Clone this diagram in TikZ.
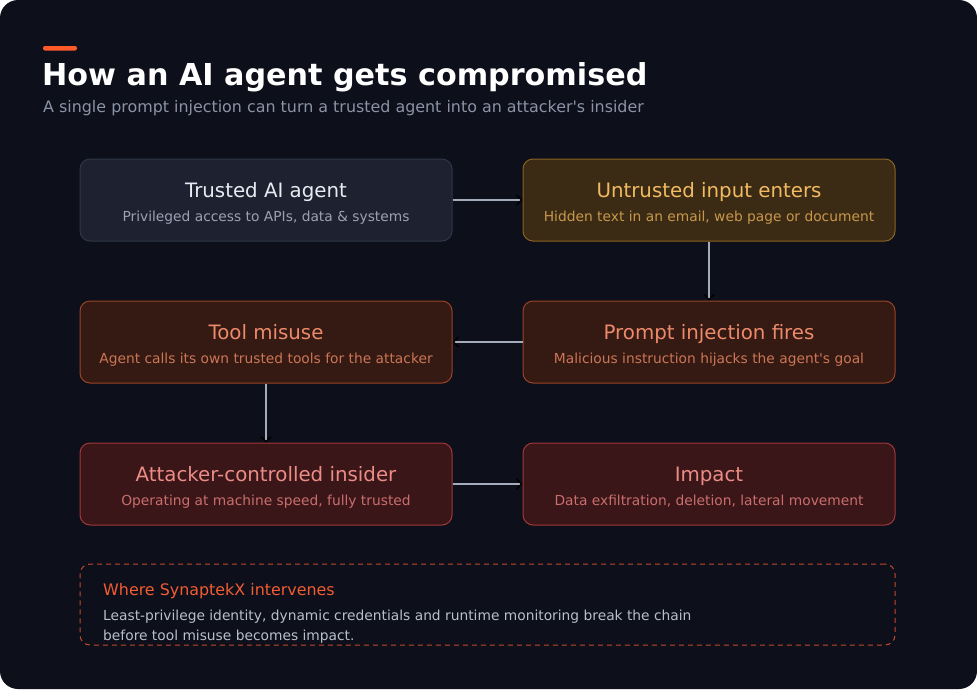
\documentclass[tikz,border=0pt]{standalone}
\usepackage{fontspec}
\setmainfont{DejaVu Sans}[Ligatures=TeXOff]
\usetikzlibrary{arrows.meta}
\definecolor{bg}{HTML}{0D0F1A}
\definecolor{accent}{HTML}{FF5A2A}
\definecolor{subt}{HTML}{8A93A6}
\definecolor{nfill}{HTML}{1E2230}
\definecolor{ndraw}{HTML}{303647}
\definecolor{ntitle}{HTML}{E8ECF2}
\definecolor{nsub}{HTML}{9AA2B2}
\definecolor{yfill}{HTML}{3B2B14}
\definecolor{ydraw}{HTML}{8C6222}
\definecolor{ytitle}{HTML}{F2BA62}
\definecolor{ysub}{HTML}{C9974C}
\definecolor{ofill}{HTML}{341A12}
\definecolor{odraw}{HTML}{9A4426}
\definecolor{otitle}{HTML}{EC8A6A}
\definecolor{osub}{HTML}{CC7556}
\definecolor{rfill}{HTML}{3A1618}
\definecolor{rdraw}{HTML}{A0383A}
\definecolor{rtitle}{HTML}{EC8C86}
\definecolor{rsub}{HTML}{C96E6C}
\definecolor{arr}{HTML}{A4ACBC}
\definecolor{dash}{HTML}{C24A2C}
\definecolor{wtitle}{HTML}{F25C32}
\definecolor{wbody}{HTML}{B8BFCC}
\tikzset{
  card/.style={rounded corners=10pt, line width=1pt, minimum width=372pt, minimum height=82pt, inner sep=0pt},
  ttl/.style={font=\fontsize{19.8}{22}\selectfont, anchor=base, inner sep=0pt},
  sbt/.style={font=\fontsize{13.8}{16}\selectfont, anchor=base, inner sep=0pt},
  conn/.style={draw=arr, line width=1.2pt, -{Straight Barb[length=5pt,width=10pt,color=black,line width=1.4pt]}},
}
\begin{document}
\begin{tikzpicture}[x=1pt,y=-1pt]
\useasboundingbox (0,0) rectangle (977,689);
\fill[white] (0,0) rectangle (977,689);
\fill[bg, rounded corners=18pt] (0,0) rectangle (977,689);
\fill[accent, rounded corners=2pt] (43,46) rectangle (77,50.5);
\node[anchor=base west, inner sep=0pt, text=white, font=\bfseries\fontsize{30.2}{34}\selectfont] (title) at (42,85) {How an AI agent gets compromised};
\node[anchor=base west, inner sep=0pt, text=subt, font=\fontsize{15.9}{18}\selectfont] (sub) at (43,112.5) {A single prompt injection can turn a trusted agent into an attacker's insider};

% cards
\node[card, fill=nfill, draw=ndraw] (a) at (266,200) {};
\node[ttl, text=ntitle] (at) at (266,197) {Trusted AI agent};
\node[sbt, text=nsub] (as) at (266,221) {Privileged access to APIs, data \& systems};

\node[card, fill=yfill, draw=ydraw] (b) at (709,200) {};
\node[ttl, text=ytitle] (bt) at (709,197) {Untrusted input enters};
\node[sbt, text=ysub] (bs) at (709,221) {Hidden text in an email, web page or document};

\node[card, fill=ofill, draw=odraw] (c) at (709,342) {};
\node[ttl, text=otitle] (ct) at (709,339) {Prompt injection fires};
\node[sbt, text=osub] (cs) at (709,363) {Malicious instruction hijacks the agent's goal};

\node[card, fill=ofill, draw=odraw] (d) at (266,342) {};
\node[ttl, text=otitle] (dt) at (266,339) {Tool misuse};
\node[sbt, text=osub] (ds) at (266,363) {Agent calls its own trusted tools for the attacker};

\node[card, fill=rfill, draw=rdraw] (e) at (266,484) {};
\node[ttl, text=rtitle] (et) at (266,481) {Attacker-controlled insider};
\node[sbt, text=rsub] (es) at (266,505) {Operating at machine speed, fully trusted};

\node[card, fill=rfill, draw=rdraw] (f) at (709,484) {};
\node[ttl, text=rtitle] (ft) at (709,481) {Impact};
\node[sbt, text=rsub] (fs) at (709,505) {Data exfiltration, deletion, lateral movement};

% connectors
\draw[conn] (a.east) -- (b.west);
\draw[conn] (b.south) -- (c.north);
\draw[conn] (c.west) -- (d.east);
\draw[conn] (d.south) -- (e.north);
\draw[conn] (e.east) -- (f.west);

% callout
\node[draw=dash, dashed, dash pattern=on 5pt off 4pt, line width=1pt, rounded corners=10pt, minimum width=815pt, minimum height=81pt, inner sep=0pt] (w) at (487.5,604.5) {};
\node[anchor=base west, inner sep=0pt, text=wtitle, font=\fontsize{15.9}{18}\selectfont] (wt) at (103,595.5) {Where SynaptekX intervenes};
\node[anchor=base west, inner sep=0pt, text=wbody, font=\fontsize{13.8}{16}\selectfont] (w1) at (103,620) {Least-privilege identity, dynamic credentials and runtime monitoring break the chain};
\node[anchor=base west, inner sep=0pt, text=wbody, font=\fontsize{13.8}{16}\selectfont] (w2) at (103,640) {before tool misuse becomes impact.};
\end{tikzpicture}
\end{document}
